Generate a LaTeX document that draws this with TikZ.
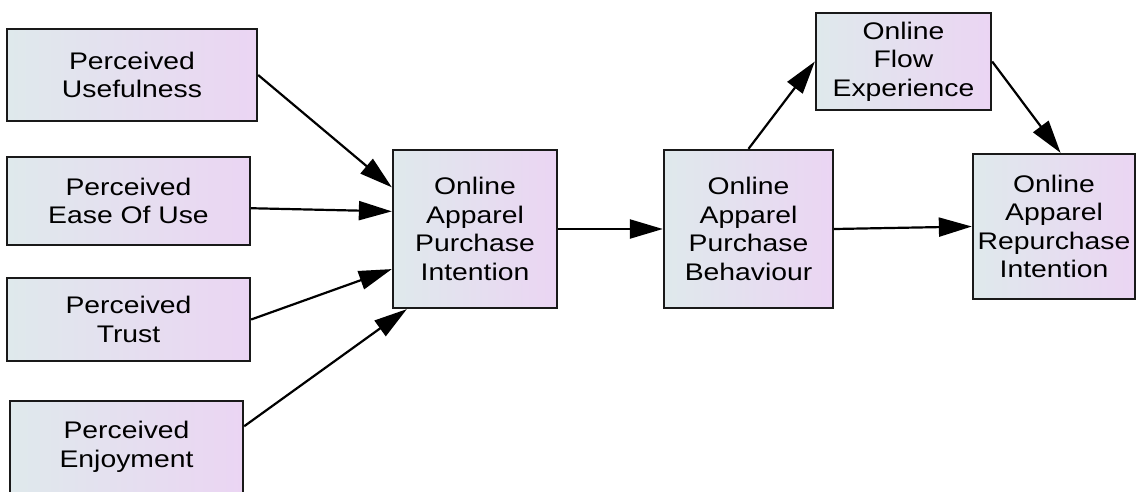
\documentclass[tikz,border=0pt]{standalone}
\usepackage{fontspec}
\setmainfont[FakeStretch=1.18]{Liberation Sans}
\usetikzlibrary{arrows.meta,calc}

\definecolor{boxleft}{RGB}{223,233,236}
\definecolor{boxright}{RGB}{235,213,243}
\definecolor{boxline}{RGB}{25,25,25}

\tikzset{
  construct/.style={
    draw=boxline, line width=2.3pt, rectangle, inner sep=0pt,
    left color=boxleft, middle color=boxright!75!boxleft, right color=boxright,
    align=center, text=black,
    font=\fontsize{24}{28.5}\selectfont
  },
  path/.style={
    draw=black, line width=2.2pt,
    -{Triangle[length=33pt,width=19pt]}
  }
}

\begin{document}
\begin{tikzpicture}[x=1pt,y=-1pt]
  \useasboundingbox (0,0) rectangle (1139,491);

  % antecedents
  \node[construct, minimum width=250pt, minimum height=92pt] (pu) at (132,75)
    {Perceived\\Usefulness};
  \node[construct, minimum width=243pt, minimum height=88pt] (pe) at (128.5,201)
    {Perceived\\Ease Of Use};
  \node[construct, minimum width=243pt, minimum height=83pt] (pt) at (128.5,319.5)
    {Perceived\\Trust};
  \node[construct, minimum width=233pt, minimum height=92pt] (pj) at (126.5,447)
    {Perceived\\Enjoyment};

  % intention, behaviour and outcomes
  \node[construct, minimum width=164pt, minimum height=158pt] (oi) at (475,229)
    {Online\\Apparel\\Purchase\\Intention};
  \node[construct, minimum width=169pt, minimum height=158pt] (ob) at (748.5,229)
    {Online\\Apparel\\Purchase\\Behaviour};
  \node[construct, minimum width=175pt, minimum height=97pt] (of) at (903.5,61.5)
    {Online\\Flow\\Experience};
  \node[construct, minimum width=162pt, minimum height=145pt] (or) at (1054,226.5)
    {Online\\Apparel\\Repurchase\\Intention};

  % paths
  \draw[path] (pu.east) -- ($(oi.north west)!0.24!(oi.south west)$);
  \draw[path] ($(pe.north east)!0.58!(pe.south east)$) -- ($(oi.north west)!0.39!(oi.south west)$);
  \draw[path] (pt.east) -- ($(oi.north west)!0.75!(oi.south west)$);
  \draw[path] ($(pj.north east)!0.28!(pj.south east)$) -- ($(oi.south west)!0.09!(oi.south east)$);
  \draw[path] (oi.east) -- (ob.west);
  \draw[path] (ob.north) -- (of.west);
  \draw[path] (of.east) -- ($(or.north west)!0.54!(or.north east)$);
  \draw[path] (ob.east) -- (or.west);
\end{tikzpicture}
\end{document}
